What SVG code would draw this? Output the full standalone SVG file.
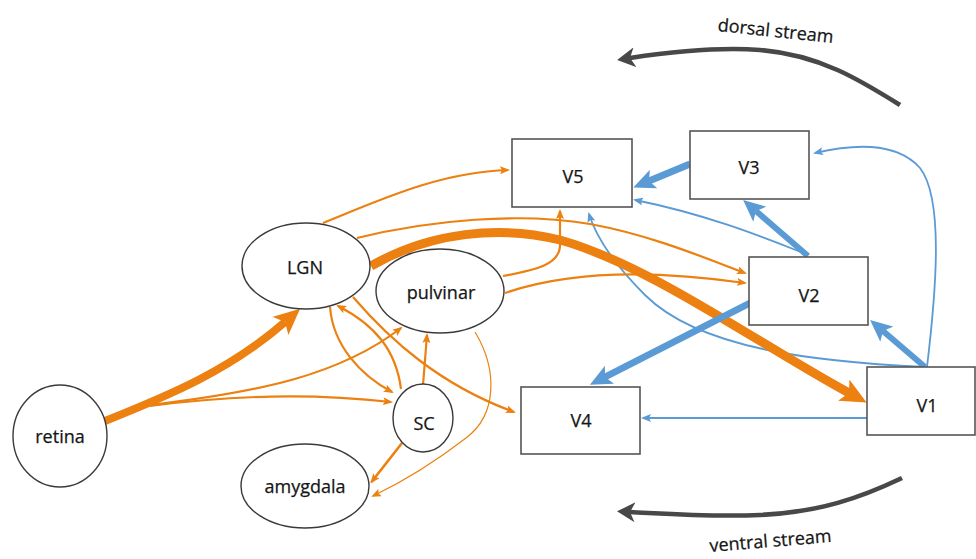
<svg xmlns="http://www.w3.org/2000/svg" width="976" height="559" viewBox="0 0 976 559">
<style>
.bg{fill:#fff}
.node ellipse,.node rect{fill:#fff;stroke:#3a3a3a;stroke-width:1.4}
.node rect{stroke:#555;stroke-width:1.6}
.lbl{font-family:"Open Sans","Liberation Sans",sans-serif;font-size:18px;fill:#151515;stroke:#151515;stroke-width:0.25;text-anchor:middle}
.o{fill:none;stroke:#EC8010;stroke-width:2.2}
.b{fill:none;stroke:#5B9BD5;stroke-width:1.8}
.g{fill:none;stroke:#484848;stroke-width:4.6}
</style>
<defs>
<marker id="mo" markerUnits="userSpaceOnUse" viewBox="0 0 10 8" markerWidth="10" markerHeight="8" refX="8" refY="4" orient="auto"><path d="M0,0 L10,4 L0,8 L2,4 z" fill="#EC8010"/></marker>
<marker id="mb" markerUnits="userSpaceOnUse" viewBox="0 0 10 8" markerWidth="10" markerHeight="8" refX="8" refY="4" orient="auto"><path d="M0,0 L10,4 L0,8 L2,4 z" fill="#5B9BD5"/></marker>
<marker id="MO" markerUnits="userSpaceOnUse" viewBox="0 0 26 24" markerWidth="26" markerHeight="24" refX="6" refY="12" orient="auto"><path d="M0,0 L26,12 L0,24 L6,12 z" fill="#EC8010"/></marker>
<marker id="MB" markerUnits="userSpaceOnUse" viewBox="0 0 22 20" markerWidth="22" markerHeight="20" refX="5" refY="10" orient="auto"><path d="M0,0 L22,10 L0,20 L5,10 z" fill="#5B9BD5"/></marker>
<marker id="MG" markerUnits="userSpaceOnUse" viewBox="0 0 18 20" markerWidth="18" markerHeight="20" refX="5" refY="10" orient="auto"><path d="M0,0 L18,10 L0,20 L5,10 z" fill="#484848"/></marker>
</defs>
<rect class="bg" x="0" y="0" width="976" height="559"/>

<g id="connectors">
<!-- blue thin -->
<path class="b" d="M806 254 C770 240 710 215 635 200" marker-end="url(#mb)"/>
<path class="b" d="M927 367 C935 300 945 200 920 168 C895 140 850 145 815 153" marker-end="url(#mb)"/>
<path class="b" d="M925 367 C820 362 700 350 645 295 C615 265 597 240 589 214" marker-end="url(#mb)"/>
<path class="b" d="M867 418 L643 418" marker-end="url(#mb)"/>
<!-- orange -->
<path class="o" d="M150 405 C260 392 340 375 401 328" marker-end="url(#mo)"/>
<path class="o" d="M150 406 C240 394 320 394 391 402" marker-end="url(#mo)"/>
<path class="o" style="stroke-width:8" d="M105 421 C170 395 230 370 285 322" marker-end="url(#MO)"/>
<path class="o" d="M323 223 C380 200 440 172 508 170" marker-end="url(#mo)"/>
<path class="o" d="M357 238 C430 220 520 212 590 224 C650 235 700 256 745 273" marker-end="url(#mo)"/>
<path class="o" d="M503 276 C535 270 560 265 560 245 L560 211" marker-end="url(#mo)"/>
<path class="o" d="M505 293 C560 274 640 268 745 283" marker-end="url(#mo)"/>
<path class="o" style="stroke-width:1.2" d="M475 332 C498 370 497 415 466 438 C435 462 400 483 373 496" marker-end="url(#mo)"/>
<path class="o" d="M330 307 C333 345 360 375 392 392" marker-end="url(#mo)"/>
<path class="o" d="M401 389 C396 350 375 325 338 306" marker-end="url(#mo)"/>
<path class="o" d="M353 297 C390 340 440 385 514 412" marker-end="url(#mo)"/>
<path class="o" d="M423 385 L427 335" marker-end="url(#mo)"/>
<path class="o" style="stroke-width:2.6" d="M402 443 L371.5 482" marker-end="url(#mo)"/>
<path class="o" style="stroke-width:9" d="M371 266 C430 232 500 225 560 240 C650 265 760 345 849 393" marker-end="url(#MO)"/>
<!-- blue thick -->
<path class="b" style="stroke-width:7" d="M690 164 L649 181" marker-end="url(#MB)"/>
<path class="b" style="stroke-width:6" d="M808 256 L756 211" marker-end="url(#MB)"/>
<path class="b" style="stroke-width:7" d="M752 302 L605 377" marker-end="url(#MB)"/>
<path class="b" style="stroke-width:6" d="M925 367 L883 331" marker-end="url(#MB)"/>
<!-- streams -->
<path class="g" d="M900 105 C860 80 820 55 760 50 C720 47 670 52 630 58" marker-end="url(#MG)"/>
<path class="g" d="M902 478 C860 498 820 512 760 515 C710 517 670 514 630 512" marker-end="url(#MG)"/>
</g>

<g id="retina" class="node"><ellipse cx="60" cy="436" rx="47" ry="51"/><text class="lbl" x="60" y="443">retina</text></g>
<g id="LGN" class="node"><ellipse cx="306" cy="266" rx="64" ry="43"/><text class="lbl" x="305" y="274">LGN</text></g>
<g id="pulvinar" class="node"><ellipse cx="440" cy="291" rx="64" ry="42"/><text class="lbl" x="441" y="299">pulvinar</text></g>
<g id="SC" class="node"><ellipse cx="423" cy="418" rx="30" ry="34"/><text class="lbl" x="424" y="430">SC</text></g>
<g id="amygdala" class="node"><ellipse cx="305" cy="486" rx="64" ry="42"/><text class="lbl" x="305" y="493">amygdala</text></g>
<g id="V5" class="node"><rect x="512" y="139" width="120" height="68"/><text class="lbl" x="573" y="183">V5</text></g>
<g id="V3" class="node"><rect x="690" y="131" width="119" height="68"/><text class="lbl" x="749" y="174">V3</text></g>
<g id="V2" class="node"><rect x="749" y="257" width="119" height="68"/><text class="lbl" x="809" y="302">V2</text></g>
<g id="V1" class="node"><rect x="867" y="367" width="108" height="68"/><text class="lbl" x="927" y="412">V1</text></g>
<g id="V4" class="node"><rect x="521" y="387" width="119" height="67"/><text class="lbl" x="581" y="427">V4</text></g>

<g id="labels">
<text class="lbl" x="775" y="37" transform="rotate(6 775 37)">dorsal stream</text>
<text class="lbl" x="771" y="547" transform="rotate(-4.7 771 547)">ventral stream</text>
</g>
</svg>
